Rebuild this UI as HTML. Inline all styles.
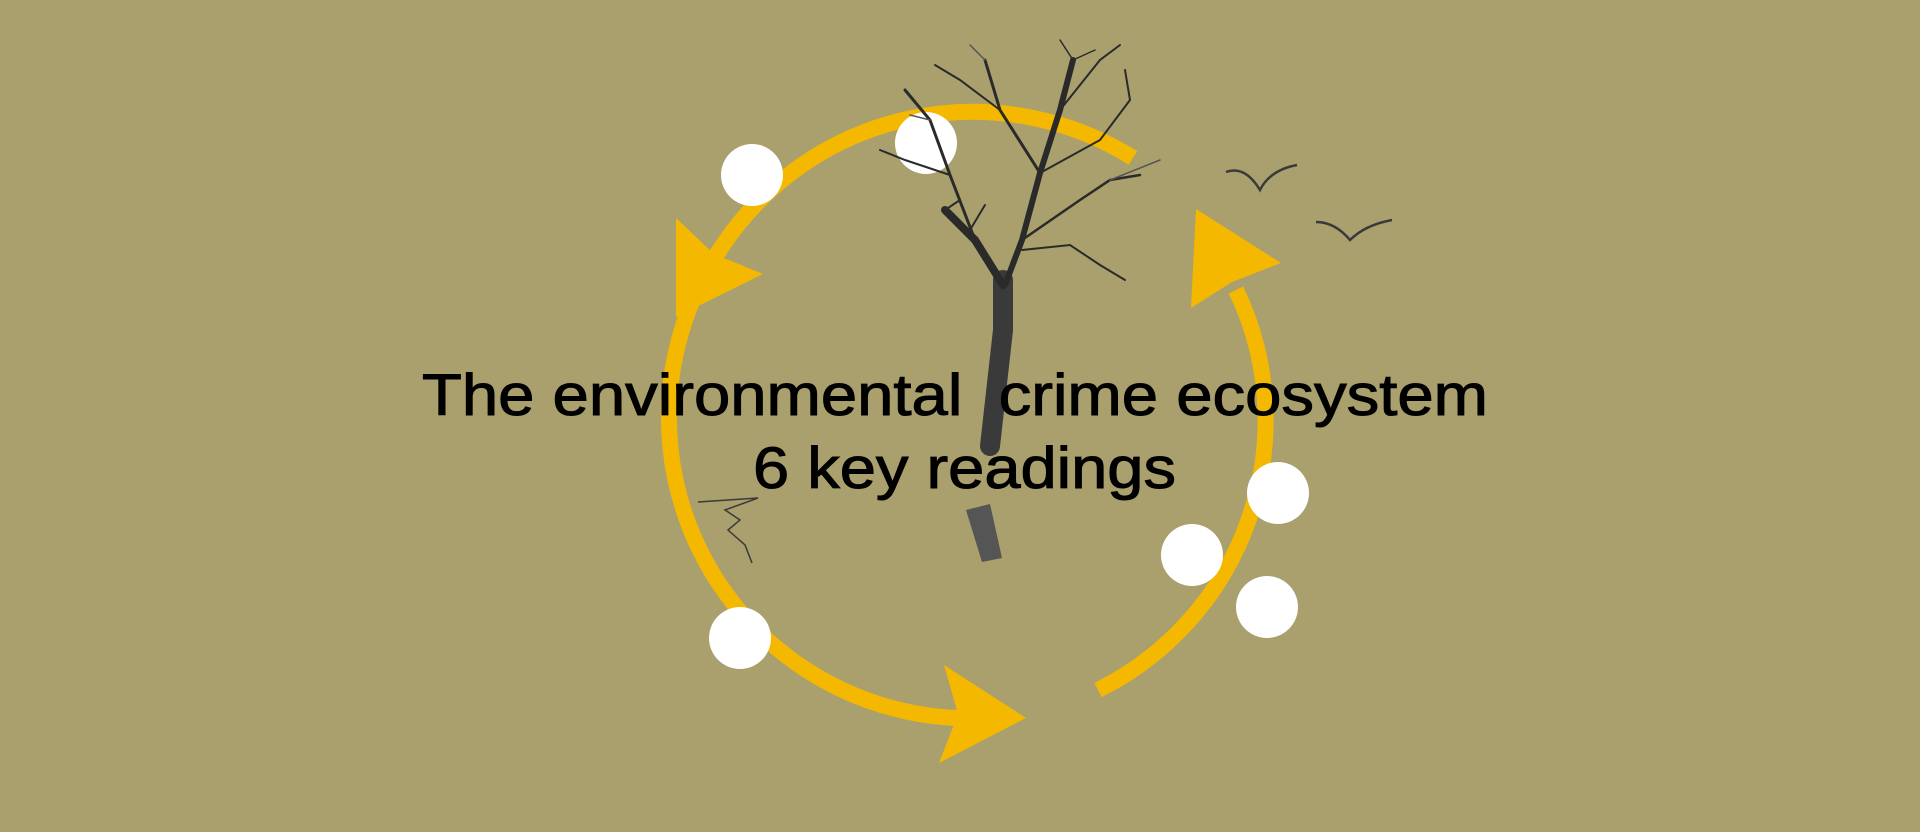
<!DOCTYPE html>
<html><head><meta charset="utf-8"><style>
html,body{margin:0;padding:0;width:1920px;height:832px;overflow:hidden;background:#a9a06e}
svg{display:block}
</style></head><body>
<svg width="1920" height="832" viewBox="0 0 1920 832" xmlns="http://www.w3.org/2000/svg">
<rect width="1920" height="832" fill="#a9a06e"/>
<g fill="none" stroke="#f5b800" stroke-width="16">
<path d="M722,246.5 A301,301 0 0 1 1133,158"/>
<path d="M1236,290 A301,301 0 0 1 1098,690"/>
<path d="M958,718 A301,301 0 0 1 722,246.5"/>
</g>
<g fill="#f5b800">
<polygon points="676,317 676,218 714,254 763,274"/>
<polygon points="1196,209 1281,263 1232,282 1191,308"/>
<polygon points="1026,718 944,665 958,714 939,763"/>
</g>
<g fill="#fff">
<circle cx="752" cy="175" r="31"/>
<circle cx="926" cy="143" r="31"/>
<circle cx="1278" cy="493" r="31"/>
<circle cx="1192" cy="555" r="31"/>
<circle cx="1267" cy="607" r="31"/>
<circle cx="740" cy="638" r="31"/>
</g>
<g stroke="#2a2a2a" fill="none" stroke-linecap="round">
<path d="M990,446 L1003,330 L1003,280" stroke-width="20" stroke="#3a3a3a"/>
<path d="M1003,285 L975,240 L945,210" stroke-width="8"/>
<path d="M1005,285 L1022,240 L1040,173 L1060,110 L1073,60" stroke-width="6"/>
<path d="M975,240 L950,175 L930,120 L905,90" stroke-width="3"/>
<path d="M1040,173 L1000,110 L985,60" stroke-width="3"/>
<path d="M1022,240 L1080,200 L1110,180 L1140,175" stroke-width="2.5"/>
<path d="M1040,173 L1100,140 L1130,100 L1125,70" stroke-width="2"/>
<path d="M1060,110 L1100,60 L1120,45" stroke-width="2"/>
<path d="M1000,110 L960,80 L935,65" stroke-width="2"/>
<path d="M950,175 L905,160 L880,150" stroke-width="2"/>
<path d="M1022,250 L1070,245 L1100,265 L1125,280" stroke-width="2"/>
<path d="M945,210 L960,200 M970,230 L985,205" stroke-width="2"/>
<path d="M1073,60 L1060,40 M1073,60 L1095,50" stroke-width="1.5"/>
<path d="M930,120 L910,115 M985,60 L970,45 M1110,180 L1160,160" stroke-width="1.5" stroke="#555"/>
</g>
<polygon points="966,510 990,504 1002,558 982,562" fill="#555"/>
<g fill="none" stroke="#3a3a3a" stroke-width="2.5">
<path d="M1226,172 Q1245,165 1260,190 Q1270,170 1297,165"/>
<path d="M1316,222 Q1335,222 1350,240 Q1365,225 1392,220"/>
<path d="M698,502 L758,498 L725,510 L740,520 L728,530 L745,545 L752,563" stroke-width="1.5"/>
</g>
<g font-family="Liberation Sans, Arial, sans-serif" font-size="58" fill="#000" stroke="#000" stroke-width="1">
<text x="422" y="415" textLength="1066" lengthAdjust="spacingAndGlyphs" xml:space="preserve">The environmental  crime ecosystem</text>
<text x="753" y="488" textLength="423" lengthAdjust="spacingAndGlyphs">6 key readings</text>
</g>
</svg>
</body></html>
